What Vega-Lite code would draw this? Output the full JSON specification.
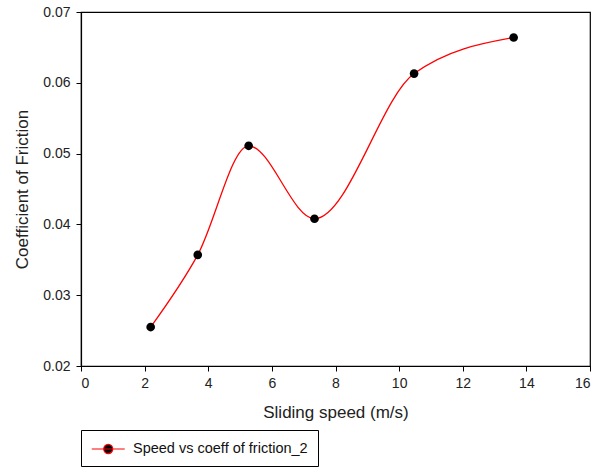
{
  "$schema": "https://vega.github.io/schema/vega-lite/v6.json",
  "width": 509,
  "height": 354,
  "autosize": "none",
  "padding": {"left": 81, "top": 12, "right": 9, "bottom": 102},
  "background": "white",
  "config": {
    "font": "Liberation Sans",
    "view": {"stroke": "black", "strokeWidth": 1.2},
    "axis": {
      "grid": false,
      "domainColor": "black",
      "domainWidth": 1.2,
      "tickColor": "black",
      "tickSize": 5,
      "labelFont": "Liberation Sans",
      "labelFontSize": 14,
      "labelColor": "#222",
      "titleFont": "Liberation Sans",
      "titleFontSize": 17,
      "titleFontWeight": "normal",
      "titleColor": "#222"
    }
  },
  "data": {
    "values": [
      {"speed": 2.19, "cof": 0.0255, "series": "Speed vs coeff of friction_2"},
      {"speed": 3.67, "cof": 0.0357, "series": "Speed vs coeff of friction_2"},
      {"speed": 5.27, "cof": 0.0511, "series": "Speed vs coeff of friction_2"},
      {"speed": 7.34, "cof": 0.0408, "series": "Speed vs coeff of friction_2"},
      {"speed": 10.47, "cof": 0.0613, "series": "Speed vs coeff of friction_2"},
      {"speed": 13.6, "cof": 0.0664, "series": "Speed vs coeff of friction_2"}
    ]
  },
  "encoding": {
    "x": {
      "field": "speed", "type": "quantitative",
      "scale": {"domain": [0, 16], "nice": false, "zero": false},
      "axis": {"title": "Sliding speed (m/s)", "values": [0,2,4,6,8,10,12,14,16], "labelPadding": 5, "titlePadding": 14}
    },
    "y": {
      "field": "cof", "type": "quantitative",
      "scale": {"domain": [0.02, 0.07], "nice": false, "zero": false},
      "axis": {"title": "Coefficient of Friction", "values": [0.02,0.03,0.04,0.05,0.06,0.07], "format": ".2f", "labelPadding": 6, "titlePadding": 11}
    }
  },
  "layer": [
    {
      "mark": {"type": "line", "interpolate": "monotone", "strokeWidth": 1.3},
      "encoding": {
        "stroke": {"field": "series", "type": "nominal", "scale": {"range": ["#ff0000"]}, "legend": null}
      }
    },
    {
      "mark": {"type": "point", "filled": true, "size": 75, "opacity": 1, "shape": "circle"},
      "encoding": {
        "fill": {
          "field": "series", "type": "nominal",
          "scale": {"range": ["black"]},
          "legend": {
            "title": null,
            "orient": "none",
            "legendX": 0,
            "legendY": 418,
            "strokeColor": "black",
            "padding": 10,
            "symbolType": "M-1,0 L3,0 M0.45,0 A0.55,0.55 0 1,1 1.55,0 A0.55,0.55 0 1,1 0.45,0 Z",
            "symbolSize": 272,
            "symbolFillColor": "black",
            "symbolStrokeColor": "#ff0000",
            "symbolStrokeWidth": 1.2,
            "labelFont": "Liberation Sans",
            "labelFontSize": 14.5,
            "labelColor": "#111",
            "labelLimit": 400,
            "labelOffset": 24
          }
        }
      }
    }
  ]
}
